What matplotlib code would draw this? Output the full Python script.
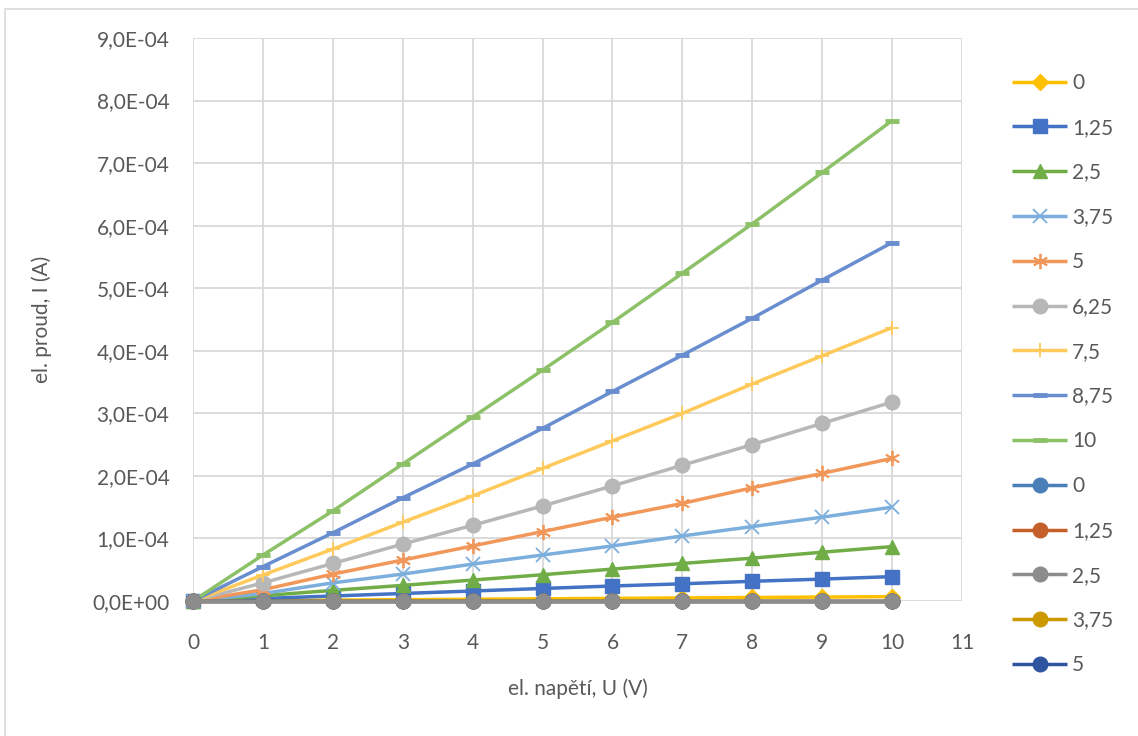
import matplotlib
matplotlib.use("Agg")
import matplotlib.pyplot as plt
from matplotlib.ticker import FuncFormatter, MultipleLocator

plt.rcParams['font.family'] = ['Lato', 'DejaVu Sans']

# Voltage steps (V)
voltage = [0, 1, 2, 3, 4, 5, 6, 7, 8, 9, 10]

# Current (A) for each series label
labels = ["0", "1,25", "2,5", "3,75", "5", "6,25", "7,5", "8,75", "10",
          "0", "1,25", "2,5", "3,75", "5"]

cur_0 = [0, 0.7e-6, 1.4e-6, 2.1e-6, 2.8e-6, 3.5e-6, 4.2e-6, 4.9e-6, 5.6e-6, 6.3e-6, 7.0e-6]
cur_125 = [0, 0.40e-5, 0.80e-5, 1.20e-5, 1.60e-5, 2.00e-5, 2.40e-5, 2.75e-5, 3.15e-5, 3.50e-5, 3.90e-5]
cur_25 = [0, 0.85e-5, 1.70e-5, 2.50e-5, 3.35e-5, 4.20e-5, 5.10e-5, 6.00e-5, 6.85e-5, 7.80e-5, 8.70e-5]
cur_375 = [0, 1.2e-5, 2.9e-5, 4.3e-5, 5.9e-5, 7.35e-5, 8.8e-5, 10.4e-5, 11.9e-5, 13.4e-5, 15.0e-5]
cur_5 = [0, 1.8e-5, 4.3e-5, 6.55e-5, 8.8e-5, 11.1e-5, 13.4e-5, 15.6e-5, 18.1e-5, 20.4e-5, 22.8e-5]
cur_625 = [0, 2.9e-5, 6.0e-5, 9.1e-5, 12.1e-5, 15.2e-5, 18.4e-5, 21.7e-5, 25.0e-5, 28.4e-5, 31.8e-5]
cur_75 = [0, 4.15e-5, 8.3e-5, 12.6e-5, 16.8e-5, 21.2e-5, 25.6e-5, 30.0e-5, 34.7e-5, 39.2e-5, 43.7e-5]
cur_875 = [0, 5.5e-5, 10.9e-5, 16.5e-5, 21.9e-5, 27.6e-5, 33.5e-5, 39.3e-5, 45.2e-5, 51.3e-5, 57.3e-5]
cur_10 = [0, 7.35e-5, 14.4e-5, 21.9e-5, 29.4e-5, 36.9e-5, 44.55e-5, 52.4e-5, 60.3e-5, 68.5e-5, 76.8e-5]
cur_zero = [0, 0, 0, 0, 0, 0, 0, 0, 0, 0, 0]

series = [cur_0, cur_125, cur_25, cur_375, cur_5, cur_625, cur_75, cur_875, cur_10,
          cur_zero, cur_zero, cur_zero, cur_zero, cur_zero]

colors = ['#FFC000', '#4472C4', '#70AD47', '#7CAFDD', '#F1975A', '#B7B7B7',
          '#FFCA5C', '#698ED0', '#8CC168',
          '#4A7FB8', '#C5602A', '#8C8C8C', '#CC9A00', '#2F55A0']
markers = ['D', 's', '^', 'x', (6, 2, 0), 'o', '+', '_', '_',
           'o', 'o', 'o', 'o', 'o']
msizes = [8, 10, 10, 10, 11, 10.5, 10, 10, 10, 10.5, 10.5, 10.5, 10.5, 10.5]
mews = [1, 1, 1, 1.3, 1.3, 1, 1.3, 3.5, 3.5, 1, 1, 1, 1, 1]
zorders = [3, 4, 5, 6, 7, 8, 9, 10, 11, 12, 13, 16, 14, 15]

FS = 15
TXT = '#595959'

fig = plt.figure(figsize=(11.38, 7.36), dpi=100)
fig.patch.set_facecolor('white')

# chart frame
fig.add_artist(plt.Rectangle((5 / 1138, -0.05), 1.2, 1 - 9 / 736 + 0.05,
                             transform=fig.transFigure, fill=False,
                             edgecolor='#D9D9D9', linewidth=1.2))

ax = fig.add_axes([193 / 1138, 1 - 601 / 736, (962 - 193) / 1138, (601 - 38) / 736])

handles = []
for ys, lab, c, m, ms, mew, z in zip(series, labels, colors, markers, msizes, mews, zorders):
    h, = ax.plot(voltage, ys, color=c, lw=2.5, marker=m, markersize=ms,
                 markerfacecolor=c, markeredgecolor=c, markeredgewidth=mew,
                 label=lab, zorder=z, clip_on=False, solid_capstyle='butt')
    handles.append(h)

ax.set_xlim(0, 11)
ax.set_ylim(0, 9e-4)
ax.xaxis.set_major_locator(MultipleLocator(1))
ax.yaxis.set_major_locator(MultipleLocator(1e-4))
ax.yaxis.set_major_formatter(FuncFormatter(lambda v, p: f"{v:.1E}".replace('.', ',')))
ax.grid(True, color='#D9D9D9', linewidth=1.3, zorder=0)
ax.set_axisbelow(True)
for s in ax.spines.values():
    s.set_visible(False)
ax.tick_params(length=0, labelsize=FS, labelcolor=TXT)
ax.tick_params(axis='x', pad=23)
ax.tick_params(axis='y', pad=17)

ax.set_xlabel("el. napětí, U (V)", fontsize=FS, color=TXT, labelpad=18)
ax.set_ylabel("el. proud, I (A)", fontsize=FS, color=TXT, labelpad=29)

fig.legend(handles=handles, loc='upper left',
           bbox_to_anchor=(1012 / 1138, 1 - 73 / 736),
           frameon=False, fontsize=FS, labelcolor=TXT,
           handlelength=2.64, handletextpad=0.24, labelspacing=1.19,
           borderpad=0, borderaxespad=0, numpoints=1)

fig.savefig("out.png", dpi=100, facecolor='white')
